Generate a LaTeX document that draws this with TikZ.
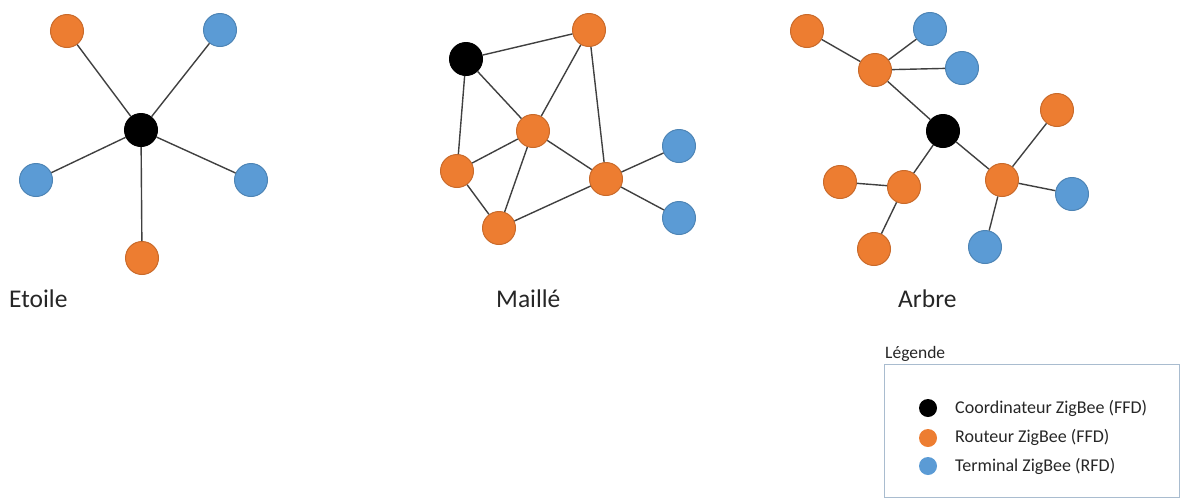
\documentclass[tikz,border=0pt]{standalone}
\usepackage{fontspec}
\setmainfont{Carlito}
\definecolor{zorange}{HTML}{ED7D31}
\definecolor{zblue}{HTML}{5B9BD5}
\definecolor{zline}{HTML}{404040}
\definecolor{zbox}{HTML}{A9BCCF}
\begin{document}
\begin{tikzpicture}[x=1pt,y=-1pt,
  dev/.style={circle,minimum size=33pt,inner sep=0pt,line width=1pt},
  coord/.style={dev,fill=black,draw=black},
  rout/.style={dev,fill=zorange,draw=zorange!85!black},
  term/.style={dev,fill=zblue,draw=zblue!85!black},
  link/.style={draw=zline,line width=1.4pt},
  title/.style={font=\fontsize{25.5}{30}\selectfont,text=black!85,inner sep=0pt,anchor=base west},
  leg/.style={font=\fontsize{18}{21}\selectfont,text=black!85,inner sep=0pt,anchor=west},
  legdot/.style={circle,minimum size=18pt,inner sep=0pt}]
\useasboundingbox (0,0) rectangle (1181,499);
% Star
\node[coord] (sc) at (141,130) {};
\node[rout] (s1) at (67,31) {};
\node[term] (s2) at (220,30) {};
\node[term] (s3) at (36,180) {};
\node[term] (s4) at (251,180) {};
\node[rout] (s5) at (142,258) {};
\foreach \n in {s1,s2,s3,s4,s5} \draw[link] (sc) -- (\n);
% Mesh
\node[coord] (mc) at (466,59) {};
\node[rout] (m1) at (589,30) {};
\node[rout] (m2) at (533,131) {};
\node[rout] (m3) at (457,171) {};
\node[rout] (m4) at (499,228) {};
\node[rout] (m5) at (606,179) {};
\node[term] (m6) at (679,146) {};
\node[term] (m7) at (679,218) {};
\draw[link] (mc) -- (m1);
\draw[link] (mc) -- (m2);
\draw[link] (mc) -- (m3);
\draw[link] (m1) -- (m2);
\draw[link] (m1) -- (m5);
\draw[link] (m2) -- (m3);
\draw[link] (m2) -- (m4);
\draw[link] (m2) -- (m5);
\draw[link] (m3) -- (m4);
\draw[link] (m4) -- (m5);
\draw[link] (m5) -- (m6);
\draw[link] (m5) -- (m7);
% Tree
\node[coord] (tc) at (943,131) {};
\node[rout] (t1) at (807,31) {};
\node[rout] (t2) at (875,70) {};
\node[term] (t3) at (930,29) {};
\node[term] (t4) at (962,68) {};
\node[rout] (t5) at (1057,110) {};
\node[rout] (t6) at (1002,180) {};
\node[term] (t7) at (1072,194) {};
\node[term] (t8) at (985,247) {};
\node[rout] (t9) at (904,187) {};
\node[rout] (t10) at (840,182) {};
\node[rout] (t11) at (874,249) {};
\draw[link] (t1) -- (t2);
\draw[link] (t2) -- (t3);
\draw[link] (t2) -- (t4);
\draw[link] (t2) -- (tc);
\draw[link] (tc) -- (t9);
\draw[link] (tc) -- (t6);
\draw[link] (t9) -- (t10);
\draw[link] (t9) -- (t11);
\draw[link] (t6) -- (t5);
\draw[link] (t6) -- (t7);
\draw[link] (t6) -- (t8);
% Titles
\node[title] (lstar) at (9,307) {Etoile};
\node[title] (lmesh) at (496,307) {Maillé};
\node[title] (ltree) at (898,307) {Arbre};
% Legend
\node[draw=zbox,line width=1pt,minimum width=295pt,minimum height=133pt,anchor=north west,inner sep=0pt] (lbox) at (884,364) {};
\node[font=\fontsize{17.5}{20}\selectfont,text=black!85,inner sep=0pt,anchor=base west] (ltitle) at (885,358) {Légende};
\node[legdot,fill=black] (d1) at (928,408) {};
\node[legdot,fill=zorange] (d2) at (928,438) {};
\node[legdot,fill=zblue] (d3) at (928,466) {};
\node[leg] (e1) at (955,408) {Coordinateur ZigBee (FFD)};
\node[leg] (e2) at (955,437) {Routeur ZigBee (FFD)};
\node[leg] (e3) at (955,466) {Terminal ZigBee (RFD)};
\end{tikzpicture}
\end{document}
